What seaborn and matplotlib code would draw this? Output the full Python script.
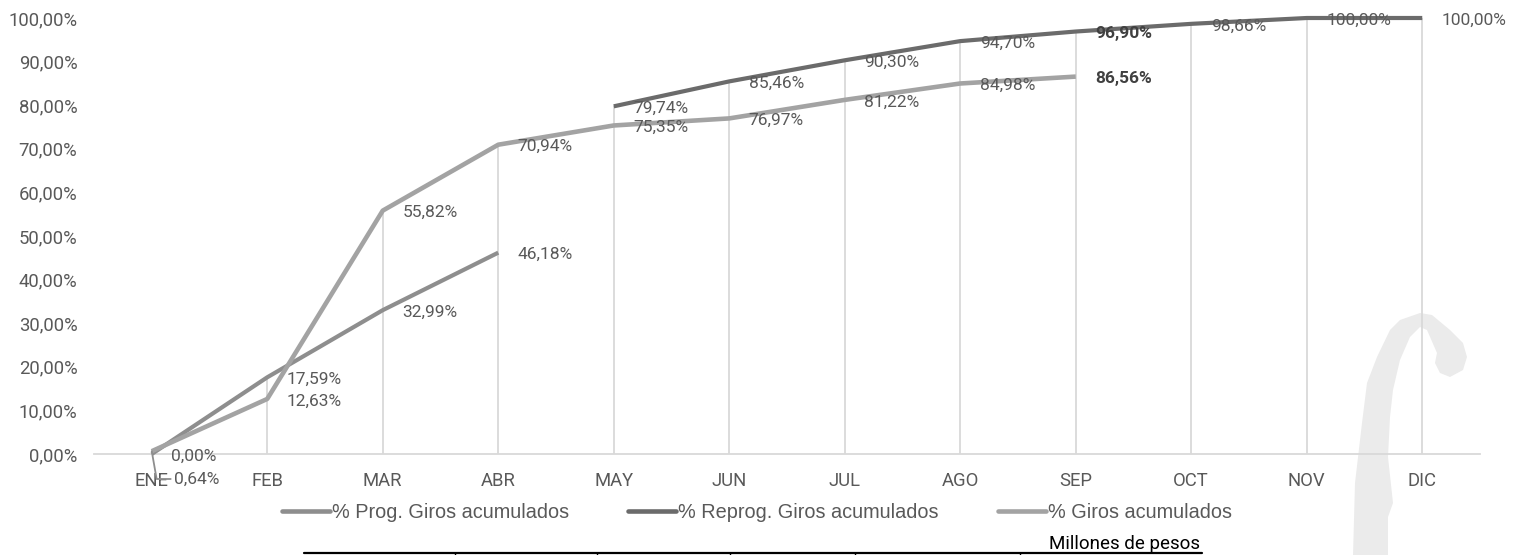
import numpy as np
import pandas as pd
import matplotlib
matplotlib.use("Agg")
import matplotlib.pyplot as plt
import seaborn as sns
from matplotlib import font_manager
from matplotlib.patches import Polygon
from matplotlib.lines import Line2D

# ---------------- data ----------------
months = ["ENE", "FEB", "MAR", "ABR", "MAY", "JUN", "JUL", "AGO", "SEP", "OCT", "NOV", "DIC"]
prog_months = ["ENE", "FEB", "MAR", "ABR"]
prog = [0.00, 17.59, 32.99, 46.18]
reprog_months = ["MAY", "JUN", "JUL", "AGO", "SEP", "OCT", "NOV", "DIC"]
reprog = [79.74, 85.46, 90.30, 94.70, 96.90, 98.66, 100.00, 100.00]
giros_months = ["ENE", "FEB", "MAR", "ABR", "MAY", "JUN", "JUL", "AGO", "SEP"]
giros = [0.64, 12.63, 55.82, 70.94, 75.35, 76.97, 81.22, 84.98, 86.56]
yticks = [0, 10, 20, 30, 40, 50, 60, 70, 80, 90, 100]

series_names = ["% Prog. Giros acumulados", "% Reprog. Giros acumulados", "% Giros acumulados"]
colors = {"% Prog. Giros acumulados": "#8e8e8e",
          "% Reprog. Giros acumulados": "#6b6b6b",
          "% Giros acumulados": "#a3a3a3"}
bold_month = "SEP"

rows = []
for name, ms, vals in zip(series_names, [prog_months, reprog_months, giros_months], [prog, reprog, giros]):
    for m, v in zip(ms, vals):
        rows.append({"series": name, "month": m, "pos": months.index(m), "value": v})
df = pd.DataFrame(rows)

# ---------------- style ----------------
sns.set_theme(style="white")

def pick(*names):
    for n in names:
        try:
            font_manager.findfont(font_manager.FontProperties(family=n), fallback_to_default=False)
            return n
        except Exception:
            continue
    return "DejaVu Sans"

narrow = pick("Liberation Sans Narrow", "Roboto", "DejaVu Sans")
arial = pick("Liberation Sans", "Arial", "DejaVu Sans")
plt.rcParams["font.family"] = [narrow, "DejaVu Sans"]

W, H = 1514, 555
fig = plt.figure(figsize=(W / 100, H / 100), dpi=100)
fig.patch.set_facecolor("white")

def fx(px):
    return px / W

def fy(py):
    return 1 - py / H

# watermark (decorative "f")
wm_poly = [(1353, 556), (1355, 483), (1362, 423), (1367, 383), (1377, 357), (1390, 330),
           (1400, 320), (1420, 313), (1432, 315), (1450, 330), (1463, 343), (1467, 357),
           (1463, 370), (1450, 377), (1440, 373), (1435, 363), (1437, 353), (1427, 330),
           (1420, 327), (1410, 337), (1400, 360), (1393, 390), (1390, 417), (1388, 457),
           (1393, 503), (1388, 517), (1388, 556)]
fig.add_artist(Polygon([(fx(x), fy(y)) for x, y in wm_poly], closed=True,
                       transform=fig.transFigure, facecolor="#ebebeb", edgecolor="none", zorder=0))

ax = fig.add_axes([fx(94), fy(454), fx(1480 - 94), (454 - 18) / H])
ax.set_facecolor("none")

# drop lines
for i, m in enumerate(months):
    vals = df.loc[df["month"] == m, "value"]
    if len(vals):
        ax.vlines(i, 0, vals.max(), color="#d9d9d9", lw=1.3, zorder=1)

widths = {"% Prog. Giros acumulados": 3.0, "% Reprog. Giros acumulados": 3.0, "% Giros acumulados": 3.3}
for name in series_names:
    sub = df[df["series"] == name]
    sns.lineplot(data=sub, x="pos", y="value", color=colors[name], lw=widths[name],
                 ax=ax, label=name, legend=False, zorder=3)
for ln in ax.lines:
    ln.set_clip_on(False)
    ln.set_solid_capstyle("butt")

ax.set_xlim(-0.5, 11.5)
ax.set_ylim(0, 100)
ax.set_xticks(range(len(months)), months)
ax.set_yticks(yticks, [f"{v:.2f}%".replace(".", ",") for v in yticks])
ax.set_xlabel("")
ax.set_ylabel("")
ax.tick_params(axis="both", length=0, labelsize=13.3, colors="#595959")
ax.tick_params(axis="y", pad=12)
ax.tick_params(axis="x", pad=13)
for s in ["left", "right", "top"]:
    ax.spines[s].set_visible(False)
ax.spines["bottom"].set_color("#d9d9d9")
ax.spines["bottom"].set_linewidth(1.3)
ax.grid(False)

def fmt(v):
    return f"{v:.2f}%".replace(".", ",")

for _, r in df.iterrows():
    bold = r["month"] == bold_month
    kw = dict(fontsize=12.5, color="#404040" if bold else "#595959",
              fontweight="bold" if bold else "normal", ha="left", va="center",
              textcoords="offset points", zorder=4, annotation_clip=False)
    if r["series"] == "% Giros acumulados" and r["month"] == "ENE":
        ax.annotate(fmt(r["value"]), (r["pos"], r["value"]), xytext=(16, -20),
                    arrowprops=dict(arrowstyle="-", color="#8e8e8e", lw=1.3, shrinkA=0, shrinkB=0,
                                    relpos=(0, 0.5),
                                    connectionstyle="angle,angleA=0,angleB=-80,rad=0"), **kw)
    else:
        ax.annotate(fmt(r["value"]), (r["pos"], r["value"]), xytext=(14, -1.5), **kw)

handles = [Line2D([], [], color=colors[n], lw=3.3) for n in series_names]
leg = fig.legend(handles, series_names, loc="center", bbox_to_anchor=(fx(757), fy(512)),
                 bbox_transform=fig.transFigure, ncol=3, frameon=False,
                 handlelength=2.4, handletextpad=0.1, columnspacing=3.0,
                 prop={"family": arial, "size": 14.3})
for t in leg.get_texts():
    t.set_color("#595959")

# table border below and unit text
fig.add_artist(Line2D([fx(304), fx(1202)], [fy(553), fy(553)], color="black", lw=1.6,
                      transform=fig.transFigure))
for sx in [455, 597, 730, 855, 1020]:
    fig.add_artist(Line2D([fx(sx), fx(sx)], [fy(553), fy(556)], color="black", lw=1.0,
                          transform=fig.transFigure))
fig.text(fx(1200), fy(549), "Millones de pesos", ha="right", va="baseline",
         fontsize=13.5, color="black")

fig.savefig("out.png", dpi=100, facecolor="white")
